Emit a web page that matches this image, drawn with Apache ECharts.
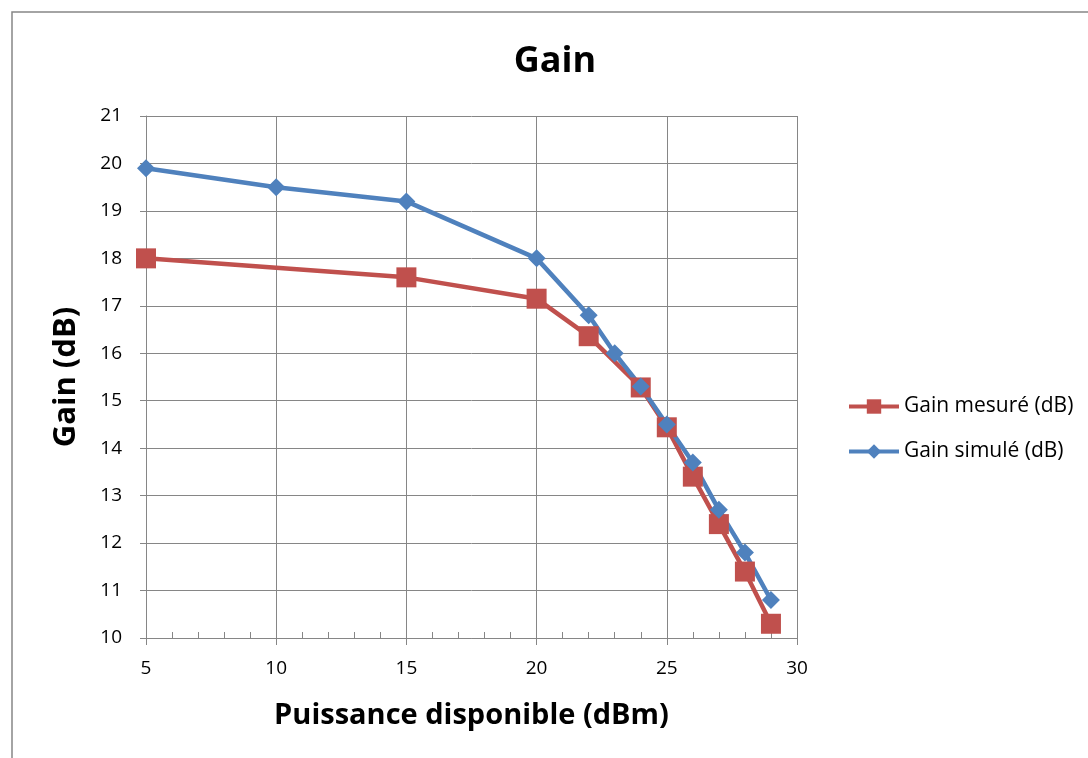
<!DOCTYPE html>
<html><head><meta charset="utf-8">
<script src="https://cdn.jsdelivr.net/npm/echarts@6/dist/echarts.min.js"></script>
<style>html,body{margin:0;padding:0;background:#fff}#c{width:1088px;height:758px}</style>
</head><body><div id="c"></div>
<script>
const puissanceMesure = [5, 15, 20, 22, 24, 25, 26, 27, 28, 29];
const gainMesure = [18.0, 17.6, 17.15, 16.36, 15.28, 14.44, 13.4, 12.4, 11.4, 10.3];
const puissanceSimule = [5, 10, 15, 20, 22, 23, 24, 25, 26, 27, 28, 29];
const gainSimule = [19.9, 19.5, 19.2, 18.0, 16.8, 16.0, 15.3, 14.5, 13.7, 12.7, 11.8, 10.8];
const seriesNames = ['Gain mesuré (dB)', 'Gain simulé (dB)'];
const font = '"Open Sans", Lato, sans-serif';
const chart = echarts.init(document.getElementById('c'));
chart.setOption({
  animation: false,
  textStyle: {fontFamily: font},
  graphic: [{type: 'rect', shape: {x: 12, y: 12, width: 1200, height: 900}, style: {fill: 'none', stroke: '#868686', lineWidth: 1.5}, silent: true}],
  title: {text: 'Gain', left: 550, top: 39, textAlign: 'center', textStyle: {fontFamily: font, fontSize: 36, fontWeight: 'bold', color: '#000'}},
  legend: {orient: 'vertical', left: 842, top: 391, itemWidth: 50, itemHeight: 18, itemGap: 24,
    lineStyle: {width: 4}, 
    textStyle: {fontFamily: font, fontSize: 21, color: '#000'}, data: seriesNames},
  grid: {left: 146, right: 291, top: 116, bottom: 120},
  xAxis: [{
    type: 'value', min: 5, max: 30, interval: 5,
    name: 'Puissance disponible (dBm)', nameLocation: 'middle', nameGap: 63,
    nameTextStyle: {fontFamily: font, fontSize: 29, fontWeight: 'bold', color: '#000'},
    axisLine: {show: true, lineStyle: {color: '#868686', width: 1}},
    axisTick: {show: true, length: 7, lineStyle: {color: '#868686'}},
    axisLabel: {fontSize: 19, color: '#000', margin: 21},
    splitLine: {show: true, lineStyle: {color: '#868686', width: 1}}
  }, {
    type: 'value', min: 5, max: 30, interval: 5, position: 'bottom',
    axisLine: {show: false}, axisTick: {show: false, inside: true}, axisLabel: {show: false}, splitLine: {show: false},
    minorTick: {show: true, splitNumber: 5, length: 6, lineStyle: {color: '#868686'}}
  }],
  yAxis: {
    type: 'value', min: 10, max: 21, interval: 1,
    name: 'Gain (dB)', nameLocation: 'middle', nameGap: 64,
    nameTextStyle: {fontFamily: font, fontSize: 31, fontWeight: 'bold', color: '#000'},
    axisLine: {show: true, lineStyle: {color: '#868686', width: 1}},
    axisTick: {show: true, length: 6, lineStyle: {color: '#868686'}},
    axisLabel: {fontSize: 19, color: '#000', margin: 24},
    splitLine: {show: true, lineStyle: {color: '#868686', width: 1}}
  },
  series: [{
    name: seriesNames[0], type: 'line', xAxisIndex: 0,
    data: puissanceMesure.map((x, i) => [x, gainMesure[i]]),
    symbol: 'rect', symbolSize: 20,
    lineStyle: {color: '#C0504D', width: 4.5}, itemStyle: {color: '#C0504D'}
  }, {
    name: seriesNames[1], type: 'line', xAxisIndex: 0,
    data: puissanceSimule.map((x, i) => [x, gainSimule[i]]),
    symbol: 'diamond', symbolSize: 18,
    lineStyle: {color: '#4F81BD', width: 4.5}, itemStyle: {color: '#4F81BD'}
  }]
});
</script></body></html>
